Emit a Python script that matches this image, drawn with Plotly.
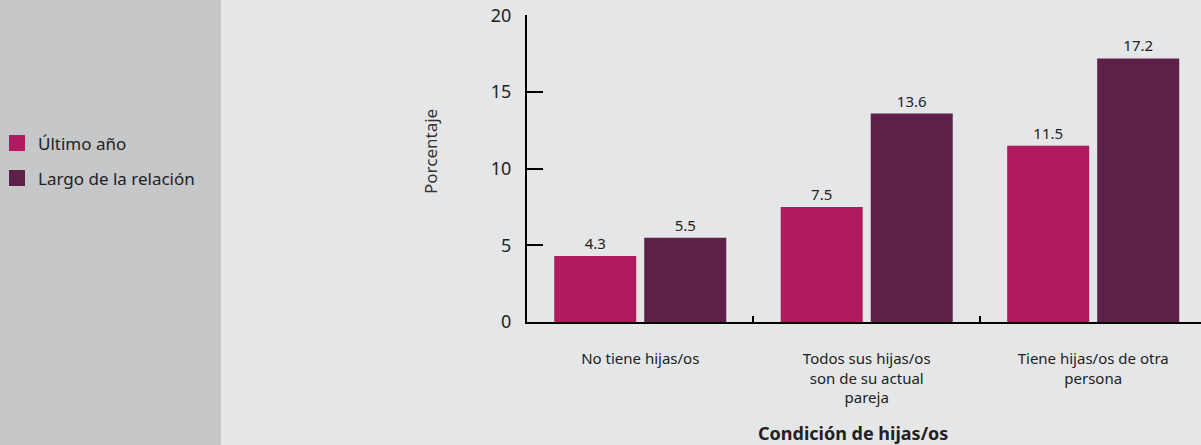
import plotly.graph_objects as go

categories = ["No tiene hijas/os", "Todos sus hijas/os<br>son de su actual<br>pareja", "Tiene hijas/os de otra<br>persona"]
series_names = ["Último año", "Largo de la relación"]
ultimo_anio = [4.3, 7.5, 11.5]
largo_relacion = [5.5, 13.6, 17.2]
colors = ["#b01a5e", "#5c2049"]
y_ticks = [0, 5, 10, 15, 20]

W, H = 1201, 445
L, R, T, B = 527, 0, 15, 123
FONT = "Noto Sans"
TXT = "#222222"

fig = go.Figure()
for name, vals, col in zip(series_names, [ultimo_anio, largo_relacion], colors):
    fig.add_trace(go.Bar(
        x=categories, y=vals, name=name, marker=dict(color=col, line=dict(width=0)),
        text=[f"{v:.1f}" for v in vals], textposition="outside",
        textfont=dict(size=15, color=TXT, family=FONT), cliponaxis=False,
        showlegend=False,
    ))

def px2paper(px):
    return (px - L) / (W - L - R)

def py2paper(py):
    return (H - B - py) / (H - T - B)

shapes = [dict(type="rect", xref="paper", yref="paper",
               x0=px2paper(-5), x1=px2paper(221), y0=py2paper(H + 5), y1=py2paper(-5),
               fillcolor="#c6c7c9", line=dict(width=0), layer="below")]
annotations = []
for i, (name, col) in enumerate(zip(series_names, colors)):
    cy = 143 + 35 * i
    shapes.append(dict(type="rect", xref="paper", yref="paper",
                       x0=px2paper(9), x1=px2paper(25), y0=py2paper(cy + 8), y1=py2paper(cy - 8),
                       fillcolor=col, line=dict(width=0)))
    annotations.append(dict(xref="paper", yref="paper", x=px2paper(36), y=py2paper(cy),
                            text=name, showarrow=False, xanchor="left", yanchor="middle",
                            font=dict(size=17, color=TXT, family=FONT)))

annotations.append(dict(xref="paper", yref="paper", x=px2paper(430), y=py2paper(152),
                        text="Porcentaje", textangle=-90, showarrow=False,
                        xanchor="center", yanchor="middle",
                        font=dict(size=17, color="#333333", family=FONT)))
annotations.append(dict(xref="paper", yref="paper", x=px2paper(853), y=py2paper(433),
                        text="<b>Condición de hijas/os</b>", showarrow=False,
                        xanchor="center", yanchor="middle",
                        font=dict(size=18, color=TXT, family=FONT)))

fig.update_layout(
    width=W, height=H, margin=dict(l=L, r=R, t=T, b=B, pad=0),
    paper_bgcolor="#e5e6e8", plot_bgcolor="#e5e6e8",
    barmode="group", bargap=0.205, bargroupgap=0.089,
    shapes=shapes, annotations=annotations,
    font=dict(family=FONT, color=TXT),
    xaxis=dict(range=[-0.5, 2.476], showline=True, linecolor="#000000", linewidth=2,
               ticks="inside", tickson="boundaries", ticklen=6, tickwidth=2, tickcolor="#000000",
               showgrid=False, zeroline=False, tickfont=dict(size=15, color=TXT, family=FONT),
               ticklabelstandoff=22),
    yaxis=dict(range=[0, 20.03], tickvals=y_ticks, showline=True, linecolor="#000000", linewidth=2,
               ticks="inside", ticklen=16, tickwidth=2, tickcolor="#000000",
               showgrid=False, zeroline=False, tickfont=dict(size=18, color=TXT, family=FONT),
               ticklabelstandoff=10),
)

fig.write_html("out.html")
